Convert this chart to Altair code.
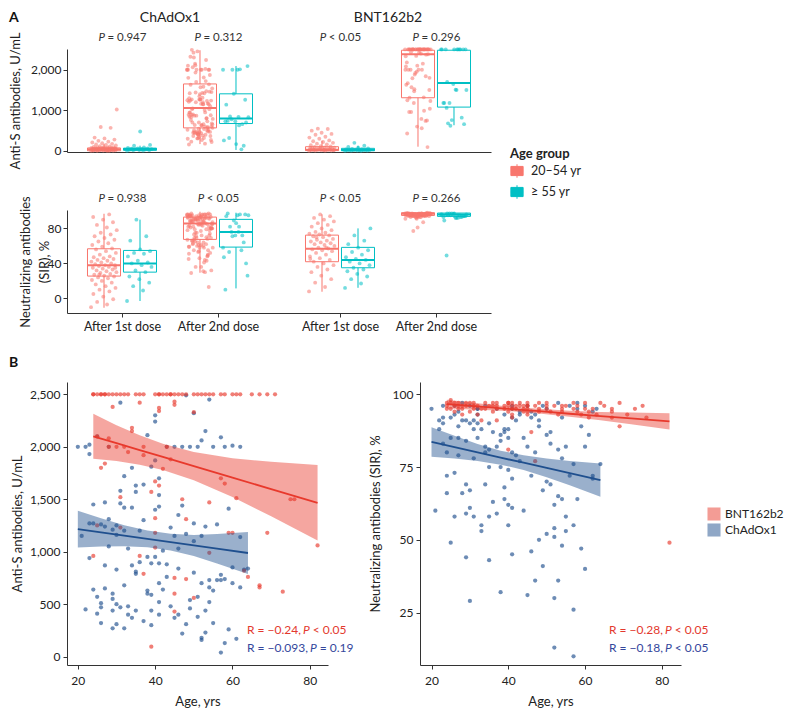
import altair as alt
import pandas as pd

FONT = "Lato"
AGE_GROUPS = ["20–54 yr", "≥ 55 yr"]
AGE_COLORS = ["#F8766D", "#00BFC4"]
VAC_ORDER = ["BNT162b2", "ChAdOx1"]
VAC_COLORS = ["#E8392C", "#1F4F8E"]
TEXT_COLORS = {"BNT162b2": "#E3392E", "ChAdOx1": "#34479C"}
DOSE_LABELS = ["After 1st dose", "After 2nd dose"]
PANEL_VACCINES = ["ChAdOx1", "BNT162b2"]

# ---------------- ChAdOx1 subjects (after 2nd dose) ----------------
chad_age = [20, 21, 22, 22, 23, 23, 23, 23, 24, 24,
            24, 25, 25, 25, 26, 26, 26, 26, 27, 27,
            27, 27, 28, 28, 28, 29, 29, 29, 29, 29,
            30, 30, 30, 30, 30, 31, 31, 31, 31, 32,
            32, 32, 32, 32, 33, 33, 33, 34, 34, 34,
            34, 35, 35, 35, 35, 35, 36, 36, 37, 37,
            37, 38, 38, 38, 38, 39, 39, 39, 39, 39,
            40, 40, 40, 40, 40, 41, 41, 41, 41, 41,
            41, 41, 42, 42, 43, 43, 43, 44, 44, 45,
            45, 45, 46, 46, 46, 46, 47, 47, 47, 48,
            48, 48, 49, 49, 49, 50, 50, 50, 50, 51,
            51, 51, 52, 52, 52, 52, 52, 53, 53, 53,
            53, 54, 54, 54, 54,
            55, 55, 55, 56, 56, 57, 57, 57, 57, 58,
            58, 58, 59, 59, 60, 60, 60, 61, 62, 62,
            62, 63, 64]
chad_antis2 = [2000, 1150, 450, 2000, 1270, 940, 2020, 1930, 1450, 640,
               1270, 570, 410, 2100, 320, 510, 470, 1260, 1240, 1470,
               870, 650, 1310, 1050, 2000, 550, 1210, 600, 440, 270,
               1160, 830, 500, 310, 1250, 1580, 2420, 1460, 470, 1420,
               1720, 1200, 680, 270, 1030, 480, 400, 1800, 1420, 870,
               370, 1570, 1630, 810, 440, 790, 1200, 900, 1640, 340,
               1300, 950, 2110, 600, 630, 890, 590, 440, 300, 1810,
               2300, 1870, 1400, 950, 2240, 1700, 1540, 1430, 700, 520,
               400, 890, 1010, 640, 880, 2000, 760, 1230, 480, 2000,
               1150, 370, 1030, 1350, 840, 400, 1440, 220, 2000, 2490,
               1170, 310, 2000, 540, 460, 1100, 1270, 2320, 800, 2000,
               570, 380, 2060, 1150, 700, 160, 180, 2150, 1240, 440,
               230, 730, 2450, 520, 660,
               2000, 630, 320, 1260, 730, 730, 40, 780, 2090, 2000,
               740, 130, 1410, 260, 2010, 850, 700, 170, 1140, 660,
               2000, 830, 840]
chad_sir2 = [95, 60, 88, 91, 92, 83, 96, 90, 80, 72,
             66, 49, 85, 92, 58, 73, 96, 93, 89, 79,
             94, 85, 91, 66, 97, 84, 59, 44, 91, 69,
             61, 29, 96, 90, 67, 88, 91, 78, 58, 95,
             93, 90, 85, 95, 88, 55, 53, 82, 96, 69,
             80, 90, 81, 43, 75, 58, 87, 63, 82, 95,
             59, 86, 75, 32, 84, 88, 68, 64, 93, 87,
             55, 74, 85, 88, 62, 71, 80, 96, 95, 92,
             61, 45, 91, 79, 93, 77, 94, 85, 60, 96,
             31, 82, 72, 46, 94, 92, 36, 80, 93, 91,
             50, 89, 96, 41, 67, 52, 86, 95, 70, 69,
             87, 83, 62, 13, 54, 51, 30, 65, 81, 36,
             97, 48, 92, 78, 64,
             58, 82, 53, 96, 72, 10, 55, 76, 26, 95,
             97, 64, 89, 47, 96, 82, 40, 86, 94, 72,
             71, 95, 76]

# ---------------- BNT162b2 subjects (after 2nd dose) ----------------
bnt_age = [24, 24, 24, 25, 25, 25, 26, 26, 26, 27,
           27, 27, 28, 28, 28, 29, 29, 30, 30, 31,
           31, 31, 32, 32, 33, 33, 34, 34, 35, 36,
           36, 36, 37, 37, 37, 37, 39, 39, 40, 40,
           40, 40, 40, 41, 41, 41, 41, 41, 42, 42,
           43, 43, 44, 44, 44, 45, 45, 45, 45, 45,
           45, 46, 47, 47, 48, 48, 48, 50, 50, 50,
           51, 52, 53, 54, 54, 54,
           55, 57, 57, 58, 58, 59, 60, 60, 61, 61,
           62, 63, 64, 65, 67, 67, 67, 69, 69, 71,
           73, 75, 76, 82]
bnt_antis2 = [2500, 2500, 960, 2500, 2100, 1250, 2500, 2500, 1800, 2500,
              2500, 1840, 2500, 2080, 2000, 2500, 2380, 2500, 2000, 2500,
              1520, 1230, 2500, 2000, 2500, 1950, 2180, 2150, 2500, 2500,
              2420, 960, 2500, 1920, 2000, 790, 1570, 95, 2500, 1670,
              1320, 1180, 1040, 2500, 2500, 2370, 2340, 1630, 2500, 1790,
              2500, 2000, 2500, 2500, 1880, 2500, 2400, 2430, 750, 600,
              430, 2500, 2500, 1500, 2500, 1310, 740, 2500, 2330, 560,
              2500, 2500, 2500, 2500, 990, 1470,
              2500, 2500, 1700, 2500, 1650, 1180, 2500, 1180, 2500, 1510,
              2500, 820, 760, 2500, 2500, 680, 660, 2500, 1180, 2500,
              620, 1500, 1500, 1060]
bnt_sir2 = [97, 95, 96, 98, 95, 97, 96, 94, 97, 96,
            95, 97, 93, 96, 95, 97, 96, 94, 97, 96,
            95, 97, 96, 93, 95, 91, 97, 95, 96, 94,
            97, 96, 95, 96, 91, 97, 95, 96, 81, 97,
            94, 96, 97, 93, 95, 96, 92, 97, 95, 96,
            97, 96, 94, 95, 96, 96, 93, 95, 97, 94,
            96, 87, 77, 96, 95, 97, 94, 96, 95, 97,
            94, 96, 93, 95, 96, 94,
            96, 95, 97, 94, 96, 93, 95, 97, 94, 92,
            95, 93, 97, 96, 92, 95, 94, 97, 89, 93,
            95, 96, 92, 49]

# ---------------- after 1st dose ----------------
chad_antis1_young = [3, 5, 6, 8, 10, 12, 14, 15, 18, 20, 22, 24, 26, 28, 30, 32, 35, 38, 40, 42,
                     44, 46, 48, 50, 52, 55, 58, 60, 62, 65, 68, 70, 72, 75, 78, 80, 85, 90, 95, 100,
                     110, 120, 135, 150, 160, 175, 190, 210, 230, 250, 280, 310, 330, 570, 590, 1020,
                     20, 30, 45, 55, 15, 8, 35, 50]
chad_antis1_old = [5, 10, 15, 20, 25, 30, 35, 40, 45, 50, 55, 60, 65, 75, 90, 130, 150, 480]
bnt_antis1_young = [5, 8, 10, 12, 15, 18, 20, 22, 25, 28, 30, 32, 35, 38, 40, 45, 50, 55, 60, 65,
                    70, 80, 90, 100, 110, 120, 140, 160, 180, 200, 220, 240, 260, 300, 330, 350,
                    400, 420, 450, 500, 540, 550, 15, 25, 35, 45, 60, 75]
bnt_antis1_old = [3, 5, 8, 10, 12, 15, 18, 20, 22, 25, 28, 30, 35, 40, 45, 50, 60, 80, 100, 130, 200]

chad_sir1_young = [-10, -7, -4, -1, 2, 5, 8, 10, 12, 14, 16, 18, 20, 21, 23, 24, 25, 26, 27, 28,
                   29, 30, 31, 32, 33, 34, 35, 36, 37, 38, 38, 39, 40, 41, 42, 43, 44, 45, 46, 47,
                   48, 50, 52, 54, 56, 57, 59, 61, 63, 65, 67, 69, 71, 73, 75, 78, 81, 84, 87, 90,
                   93, 96, 27, 35]
chad_sir1_old = [-3, 9, 14, 18, 22, 25, 30, 32, 36, 38, 40, 41, 43, 48, 51, 52, 54, 56, 66, 71, 90]
bnt_sir1_young = [8, 13, 18, 22, 26, 30, 33, 36, 38, 40, 42, 44, 46, 48, 50, 52, 54, 55, 56, 57,
                  58, 60, 61, 62, 63, 64, 65, 66, 67, 68, 70, 71, 72, 73, 74, 75, 76, 78, 80, 82,
                  84, 86, 88, 90, 92, 94, 96, 45, 58, 70]
bnt_sir1_old = [12, 17, 22, 25, 28, 31, 33, 35, 38, 40, 42, 44, 45, 47, 50, 53, 55, 58, 62, 66, 72, 80]

# ---------------- box statistics ----------------
box_keys = [("antis", "ChAdOx1", 0, "20–54 yr"), ("antis", "ChAdOx1", 0, "≥ 55 yr"),
            ("antis", "ChAdOx1", 1, "20–54 yr"), ("antis", "ChAdOx1", 1, "≥ 55 yr"),
            ("antis", "BNT162b2", 0, "20–54 yr"), ("antis", "BNT162b2", 0, "≥ 55 yr"),
            ("antis", "BNT162b2", 1, "20–54 yr"), ("antis", "BNT162b2", 1, "≥ 55 yr"),
            ("sir", "ChAdOx1", 0, "20–54 yr"), ("sir", "ChAdOx1", 0, "≥ 55 yr"),
            ("sir", "ChAdOx1", 1, "20–54 yr"), ("sir", "ChAdOx1", 1, "≥ 55 yr"),
            ("sir", "BNT162b2", 0, "20–54 yr"), ("sir", "BNT162b2", 0, "≥ 55 yr"),
            ("sir", "BNT162b2", 1, "20–54 yr"), ("sir", "BNT162b2", 1, "≥ 55 yr")]
box_lo = [0, 0, 170, 25, 0, 0, 105, 634, -10.7, -3, 29.3, 11.4, 7.6, 12.1, 92, 92]
box_q1 = [5, 15, 568, 676, 10, 5, 1310, 1080, 25.5, 30, 67.4, 58.6, 41.9, 35, 94.8, 93.7]
box_med = [45, 50, 1056, 798, 30, 25, 2383, 1675, 38, 40, 85.7, 76, 56.7, 43.8, 96.8, 96]
box_q3 = [75, 70, 1650, 1407, 105, 65, 2480, 2480, 56.7, 54.8, 92.9, 90.3, 72.3, 58.3, 97.9, 97.5]
box_hi = [170, 130, 2480, 2090, 250, 130, 2500, 2500, 96.7, 90, 99, 97.9, 96, 80, 98.5, 98.5]

p_antis = {"ChAdOx1": ["= 0.947", "= 0.312"], "BNT162b2": ["< 0.05", "= 0.296"]}
p_sir = {"ChAdOx1": ["= 0.938", "< 0.05"], "BNT162b2": ["< 0.05", "= 0.266"]}

# ---------------- regression fits ----------------
fit_antis_bnt_age = [24, 30, 36, 42, 50, 60, 70, 82]
fit_antis_bnt = [2100, 2034, 1969, 1903, 1816, 1706, 1597, 1466]
fit_antis_bnt_lo = [1885, 1864, 1829, 1778, 1681, 1521, 1337, 1106]
fit_antis_bnt_hi = [2315, 2204, 2109, 2028, 1951, 1891, 1857, 1826]
fit_antis_chad_age = [20, 26, 32, 38, 44, 50, 56, 64]
fit_antis_chad = [1215, 1184, 1153, 1122, 1091, 1060, 1029, 988]
fit_antis_chad_lo = [1040, 1049, 1053, 1042, 1011, 960, 889, 788]
fit_antis_chad_hi = [1390, 1319, 1253, 1202, 1171, 1160, 1169, 1188]
fit_sir_bnt_age = [24, 32, 40, 48, 56, 64, 72, 82]
fit_sir_bnt = [96.6, 95.8, 95.0, 94.2, 93.3, 92.5, 91.7, 90.7]
fit_sir_bnt_lo = [95.1, 94.7, 94.2, 93.4, 92.3, 91.1, 89.7, 87.9]
fit_sir_bnt_hi = [98.1, 96.9, 95.8, 95.0, 94.3, 93.9, 93.7, 93.5]
fit_sir_chad_age = [20, 26, 32, 38, 44, 50, 56, 64]
fit_sir_chad = [83.6, 81.8, 80.0, 78.2, 76.5, 74.7, 72.9, 70.5]
fit_sir_chad_lo = [78.5, 77.9, 77.1, 75.8, 74.0, 71.5, 68.7, 64.8]
fit_sir_chad_hi = [88.7, 85.7, 82.9, 80.6, 79.0, 77.9, 77.1, 76.2]

r_antis = {"BNT162b2": ("R = −0.24, ", "P", " < 0.05"), "ChAdOx1": ("R = −0.093, ", "P", " = 0.19")}
r_sir = {"BNT162b2": ("R = −0.28, ", "P", " < 0.05"), "ChAdOx1": ("R = −0.18, ", "P", " < 0.05")}

# =================================================================
GROUP_OFF = {"20–54 yr": -0.1875, "≥ 55 yr": 0.1875}
VAC_XOFF = {"ChAdOx1": 0.0, "BNT162b2": 2.271}
BOX_HALF = 0.172
A_W, A_H = 424, 103
A_XDOM = [-0.573, 3.844]
PX_PER_UNIT = A_W / (A_XDOM[1] - A_XDOM[0])
one = pd.DataFrame({"k": [0]})


def tw(s, fs):
    w = {" ": 0.22, ".": 0.23, ",": 0.23, "R": 0.64, "P": 0.6}
    return sum(w.get(c, 0.58) for c in s) * fs


def grp_of(age):
    return AGE_GROUPS[0] if age < 55 else AGE_GROUPS[1]


rows = []


def add(measure, vaccine, dose, grp, vals):
    for i, v in enumerate(vals):
        j = ((i * 0.6180339887) % 1.0 - 0.5) * 0.27
        rows.append(dict(measure=measure, vaccine=vaccine, dose=dose, grp=grp, value=v,
                         x=VAC_XOFF[vaccine] + dose + GROUP_OFF[grp] + j))


add("antis", "ChAdOx1", 0, AGE_GROUPS[0], chad_antis1_young)
add("antis", "ChAdOx1", 0, AGE_GROUPS[1], chad_antis1_old)
add("antis", "BNT162b2", 0, AGE_GROUPS[0], bnt_antis1_young)
add("antis", "BNT162b2", 0, AGE_GROUPS[1], bnt_antis1_old)
add("sir", "ChAdOx1", 0, AGE_GROUPS[0], chad_sir1_young)
add("sir", "ChAdOx1", 0, AGE_GROUPS[1], chad_sir1_old)
add("sir", "BNT162b2", 0, AGE_GROUPS[0], bnt_sir1_young)
add("sir", "BNT162b2", 0, AGE_GROUPS[1], bnt_sir1_old)
for vac, ages, s2, n2 in [("ChAdOx1", chad_age, chad_antis2, chad_sir2),
                          ("BNT162b2", bnt_age, bnt_antis2, bnt_sir2)]:
    for g in AGE_GROUPS:
        add("antis", vac, 1, g, [v for a, v in zip(ages, s2) if grp_of(a) == g])
        add("sir", vac, 1, g, [v for a, v in zip(ages, n2) if grp_of(a) == g])
ptsA = pd.DataFrame(rows)

boxA = pd.DataFrame(box_keys, columns=["measure", "vaccine", "dose", "grp"])
boxA["lo"], boxA["q1"], boxA["med"], boxA["q3"], boxA["hi"] = box_lo, box_q1, box_med, box_q3, box_hi
boxA["xc"] = boxA["vaccine"].map(VAC_XOFF) + boxA["dose"] + boxA["grp"].map(GROUP_OFF)
boxA["xl"] = boxA["xc"] - BOX_HALF
boxA["xr"] = boxA["xc"] + BOX_HALF

BOX_PATH = "M-1,-0.75H1V0.75H-1Z M-1,0H1 M0,-1.1V-0.75 M0,0.75V1.1"
legA = alt.Legend(title="Age group", orient="none", legendX=443, legendY=99,
                  symbolType=BOX_PATH, symbolSize=150, symbolStrokeWidth=1,
                  symbolFillColor="white",
                  titleFontSize=13, titleFontWeight="bold",
                  labelFontSize=12.5, rowPadding=3, titlePadding=3, labelOffset=7,
                  titleFont=FONT, labelFont=FONT, labelColor="#222", titleColor="#222")
ASCALE = alt.Scale(domain=AGE_GROUPS, range=AGE_COLORS)
colorA_leg = alt.Color("grp:N", scale=ASCALE, legend=legA)
colorA = alt.Color("grp:N", scale=ASCALE, legend=None)

TICK_POS = [VAC_XOFF[v] + d for v in PANEL_VACCINES for d in (0, 1)]
TXT_Y = -31


def rowA(measure):
    pts = ptsA[ptsA.measure == measure]
    bx = boxA[boxA.measure == measure]
    xs = alt.Scale(domain=A_XDOM, nice=False, zero=False)
    if measure == "antis":
        ys = alt.Scale(domain=[-25, 2510], nice=False, zero=False)
        yax = alt.Axis(values=[0, 1000, 2000], format=",.0f", title="Anti-S antibodies, U/mL",
                       titleX=-52, titleBaseline="middle", grid=False, tickSize=4, labelPadding=2)
        pmap = p_antis
        xax = alt.Axis(values=TICK_POS, labels=False, ticks=False, title=None, grid=False)
    else:
        ys = alt.Scale(domain=[-16.7, 101], nice=False, zero=False)
        yax = alt.Axis(values=[0, 40, 80], format=".0f", title=["Neutralizing antibodies", "(SIR), %"],
                       titleX=-42, titleBaseline="middle", titleLineHeight=19,
                       grid=False, tickSize=4, labelPadding=2)
        pmap = p_sir
        expr = (f"(datum.value < 0.5 || (datum.value > 2 && datum.value < 2.5)) ? "
                f"'{DOSE_LABELS[0]}' : '{DOSE_LABELS[1]}'")
        xax = alt.Axis(values=TICK_POS, labelExpr=expr, title=None, grid=False, tickSize=4,
                       labelPadding=3, labelFontSize=12.5)

    def X(f):
        return alt.X(f, type="quantitative", scale=xs, axis=xax)

    def Y(f):
        return alt.Y(f, type="quantitative", scale=ys, axis=yax)

    wl = alt.Chart(bx).mark_rule(strokeWidth=1).encode(x=X("xc"), y=Y("lo"), y2="q1", color=colorA_leg)
    box = alt.Chart(bx).mark_rect(filled=False, strokeWidth=1).encode(
        x=X("xl"), x2="xr", y=Y("q1"), y2="q3", color=colorA)
    wh = alt.Chart(bx).mark_rule(strokeWidth=1).encode(x=X("xc"), y=Y("q3"), y2="hi", color=colorA)
    med = alt.Chart(bx).mark_rule(strokeWidth=2).encode(x=X("xl"), x2="xr", y=Y("med"), color=colorA)
    pt = alt.Chart(pts).mark_circle(size=15, opacity=0.55).encode(x=X("x"), y=Y("value"), color=colorA)

    fs = 11.5
    prow = []
    for v in PANEL_VACCINES:
        for d in (0, 1):
            rest = pmap[v][d]
            wP, wS = tw("P", fs), tw(" ", fs)
            split = -(wP + wS + tw(rest, fs)) / 2 + wP
            prow.append({"rest": rest,
                         "xp": VAC_XOFF[v] + d + split / PX_PER_UNIT,
                         "xr": VAC_XOFF[v] + d + (split + wS) / PX_PER_UNIT})
    pdf = pd.DataFrame(prow)
    ptxt = alt.Chart(pdf).mark_text(text="P", fontStyle="italic", align="right", baseline="middle",
                                     font=FONT, fontSize=fs, color="#333").encode(x=X("xp"), y=alt.value(-11))
    rtxt = alt.Chart(pdf).mark_text(align="left", baseline="middle", font=FONT, fontSize=fs,
                                     color="#333").encode(x=X("xr"), y=alt.value(-11), text="rest:N")
    layers = [wl, box, wh, med, pt, ptxt, rtxt]
    if measure == "antis":
        for v in PANEL_VACCINES:
            cx = (VAC_XOFF[v] + 0.5 - A_XDOM[0]) * PX_PER_UNIT
            layers.append(alt.Chart(one).mark_text(text=v, font=FONT, fontSize=14, baseline="middle",
                                                    color="#222").encode(x=alt.value(cx), y=alt.value(TXT_Y)))
        layers.append(alt.Chart(one).mark_text(text="A", font=FONT, fontSize=14, fontWeight="bold",
                                                align="left", baseline="middle", color="#111")
                      .encode(x=alt.value(-58), y=alt.value(TXT_Y)))
    return alt.layer(*layers).properties(width=A_W, height=A_H)


# ---------------- panel B ----------------
B_W, B_H = 261, 283
subj = pd.concat([
    pd.DataFrame({"vaccine": "ChAdOx1", "age": chad_age, "antis": chad_antis2, "sir": chad_sir2}),
    pd.DataFrame({"vaccine": "BNT162b2", "age": bnt_age, "antis": bnt_antis2, "sir": bnt_sir2}),
])
fits = {
    "antis": pd.concat([
        pd.DataFrame({"vaccine": "BNT162b2", "age": fit_antis_bnt_age, "fit": fit_antis_bnt,
                      "lo": fit_antis_bnt_lo, "hi": fit_antis_bnt_hi}),
        pd.DataFrame({"vaccine": "ChAdOx1", "age": fit_antis_chad_age, "fit": fit_antis_chad,
                      "lo": fit_antis_chad_lo, "hi": fit_antis_chad_hi})]),
    "sir": pd.concat([
        pd.DataFrame({"vaccine": "BNT162b2", "age": fit_sir_bnt_age, "fit": fit_sir_bnt,
                      "lo": fit_sir_bnt_lo, "hi": fit_sir_bnt_hi}),
        pd.DataFrame({"vaccine": "ChAdOx1", "age": fit_sir_chad_age, "fit": fit_sir_chad,
                      "lo": fit_sir_chad_lo, "hi": fit_sir_chad_hi})]),
}
legB = alt.Legend(title=None, orient="none", legendX=640, legendY=125, symbolType="square",
                  symbolSize=170, symbolOpacity=0.5, symbolStrokeWidth=0, labelFontSize=12,
                  rowPadding=2, labelOffset=4, labelFont=FONT, labelColor="#222")
BSCALE = alt.Scale(domain=VAC_ORDER, range=VAC_COLORS)
colorB_leg = alt.Color("vaccine:N", scale=BSCALE, legend=legB)
colorB = alt.Color("vaccine:N", scale=BSCALE, legend=None)


def cellB(measure):
    if measure == "antis":
        xs = alt.Scale(domain=[17.2, 84.7], nice=False, zero=False)
        ys = alt.Scale(domain=[-79, 2617], nice=False, zero=False)
        yax = alt.Axis(values=[0, 500, 1000, 1500, 2000, 2500], format=",.0f", title="Anti-S antibodies, U/mL",
                       titleX=-50, titleBaseline="middle", grid=False, tickSize=4, labelPadding=3)
        rtexts = r_antis
        tx0 = 180
    else:
        xs = alt.Scale(domain=[17, 85], nice=False, zero=False)
        ys = alt.Scale(domain=[7, 104.2], nice=False, zero=False)
        yax = alt.Axis(values=[25, 50, 75, 100], format=".0f", title="Neutralizing antibodies (SIR), %",
                       titleX=-45, titleBaseline="middle", grid=False, tickSize=4, labelPadding=3)
        rtexts = r_sir
        tx0 = 189
    xax = alt.Axis(values=[20, 40, 60, 80], format=".0f", title="Age, yrs", grid=False, tickSize=4,
                   labelPadding=6, titleY=36, titleBaseline="middle")

    def X(f):
        return alt.X(f, type="quantitative", scale=xs, axis=xax)

    def Y(f):
        return alt.Y(f, type="quantitative", scale=ys, axis=yax)

    pts = alt.Chart(subj).mark_circle(size=18, opacity=0.65).encode(x=X("age"), y=Y(measure), color=colorB_leg)
    band = alt.Chart(fits[measure]).mark_area(opacity=0.45).encode(x=X("age"), y=Y("lo"), y2="hi", color=colorB)
    line = alt.Chart(fits[measure]).mark_line(strokeWidth=1.8).encode(x=X("age"), y=Y("fit"), color=colorB)
    layers = [pts, band, line]
    fs = 12
    for k, vac in enumerate(VAC_ORDER):
        xx = tx0
        for seg in rtexts[vac]:
            italic = seg == "P"
            layers.append(alt.Chart(one).mark_text(text=seg.strip(), font=FONT, fontSize=fs, align="left",
                                                    baseline="middle", color=TEXT_COLORS[vac],
                                                    fontStyle="italic" if italic else "normal")
                          .encode(x=alt.value(xx + tw(seg[:len(seg) - len(seg.lstrip())], fs)),
                                  y=alt.value(248 + 18 * k)))
            xx += tw(seg, fs)
    if measure == "antis":
        layers.append(alt.Chart(one).mark_text(text="B", font=FONT, fontSize=14, fontWeight="bold",
                                                align="left", baseline="middle", color="#111")
                      .encode(x=alt.value(-58), y=alt.value(-19)))
    return alt.layer(*layers).properties(width=B_W, height=B_H)


RES = dict(x="independent", y="independent")
panelA = alt.vconcat(rowA("antis"), rowA("sir"), spacing=24).resolve_scale(color="shared", **RES)
panelB = alt.hconcat(cellB("antis"), cellB("sir"), spacing=92, bounds="flush").resolve_scale(
    color="shared", **RES)

chart = alt.vconcat(panelA, panelB, spacing=23).resolve_scale(
    color="independent", **RES).resolve_legend(color="independent").properties(
    padding={"left": 0, "top": 3, "right": 0, "bottom": 0}, background="white"
).configure(font=FONT).configure_view(stroke=None).configure_axis(
    labelFont=FONT, titleFont=FONT, labelFontSize=12, titleFontSize=13, titleFontWeight="normal",
    labelColor="#222", titleColor="#222", domainColor="#333", tickColor="#333", domainWidth=1
)

chart.save("out.html", embed_options={"renderer": "svg", "actions": False})
